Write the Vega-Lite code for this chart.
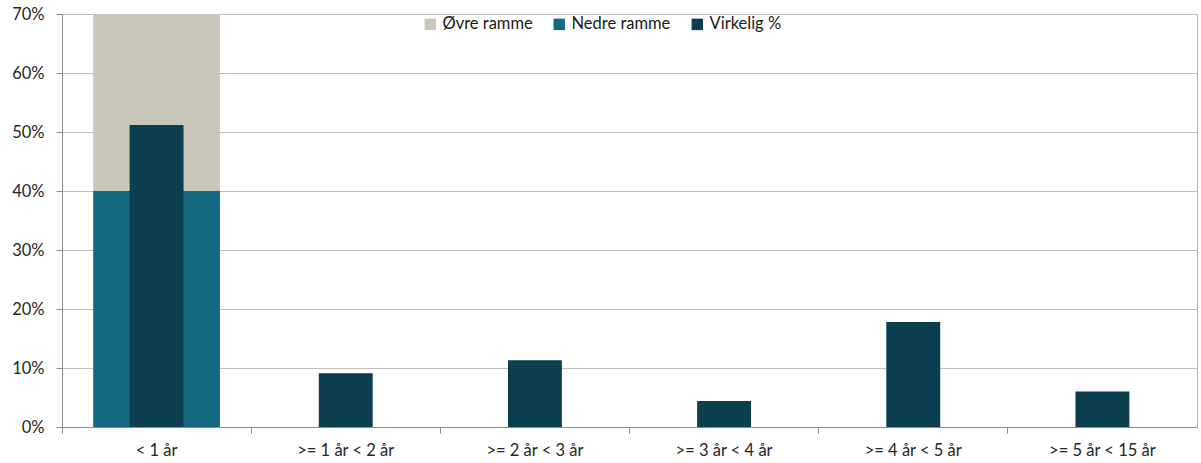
{
  "$schema": "https://vega.github.io/schema/vega-lite/v6.json",
  "autosize": "none",
  "width": 1135,
  "height": 413,
  "padding": {"left": 62, "top": 14, "right": 4, "bottom": 36},
  "background": "white",
  "config": {
    "font": "Lato",
    "view": {"stroke": "#b3b3b3", "strokeWidth": 1},
    "axis": {"labelFont": "Lato", "labelFontSize": 16.5, "labelColor": "#262626", "domainColor": "#8c8c8c", "tickColor": "#8c8c8c", "gridColor": "#c0c0c0", "title": null}
  },
  "datasets": {
    "ramme": [
      {"kat": "< 1 år", "serie": "Øvre ramme", "fra": 0.40, "til": 0.70},
      {"kat": "< 1 år", "serie": "Nedre ramme", "fra": 0.0, "til": 0.40}
    ],
    "virkelig": [
      {"kat": "< 1 år", "serie": "Virkelig %", "verdi": 0.512},
      {"kat": ">= 1 år < 2 år", "serie": "Virkelig %", "verdi": 0.091},
      {"kat": ">= 2 år < 3 år", "serie": "Virkelig %", "verdi": 0.113},
      {"kat": ">= 3 år < 4 år", "serie": "Virkelig %", "verdi": 0.044},
      {"kat": ">= 4 år < 5 år", "serie": "Virkelig %", "verdi": 0.178},
      {"kat": ">= 5 år < 15 år", "serie": "Virkelig %", "verdi": 0.060}
    ]
  },
  "layer": [
    {
      "data": {"name": "ramme"},
      "mark": {"type": "bar", "width": {"band": 0.67}},
      "encoding": {
        "x": {"field": "kat", "type": "nominal", "sort": null},
        "y": {"field": "fra", "type": "quantitative"},
        "y2": {"field": "til"},
        "color": {"field": "serie", "type": "nominal"}
      }
    },
    {
      "data": {"name": "virkelig"},
      "mark": {"type": "bar", "width": {"band": 0.285}},
      "encoding": {
        "x": {"field": "kat", "type": "nominal", "sort": null},
        "y": {"field": "verdi", "type": "quantitative"},
        "color": {"field": "serie", "type": "nominal"}
      }
    }
  ],
  "encoding": {
    "x": {
      "field": "kat", "type": "nominal",
      "sort": ["< 1 år", ">= 1 år < 2 år", ">= 2 år < 3 år", ">= 3 år < 4 år", ">= 4 år < 5 år", ">= 5 år < 15 år"],
      "scale": {"paddingInner": 0, "paddingOuter": 0, "domain": ["< 1 år", ">= 1 år < 2 år", ">= 2 år < 3 år", ">= 3 år < 4 år", ">= 4 år < 5 år", ">= 5 år < 15 år"]},
      "axis": {"labelAngle": 0, "bandPosition": 0, "tickSize": 6, "labelPadding": 9, "grid": false, "ticks": true, "labelOffset": 0}
    },
    "y": {
      "type": "quantitative",
      "scale": {"domain": [0, 0.7], "nice": false},
      "axis": {"values": [0, 0.1, 0.2, 0.3, 0.4, 0.5, 0.6, 0.7], "format": ".0%", "tickSize": 6, "labelPadding": 12, "grid": true}
    },
    "color": {
      "type": "nominal",
      "scale": {"domain": ["Øvre ramme", "Nedre ramme", "Virkelig %"], "range": ["#c9c7b9", "#136882", "#0b3e4e"]},
      "legend": {
        "orient": "none", "legendX": 360, "legendY": 2, "direction": "horizontal",
        "title": null, "symbolType": "square", "symbolSize": 130, "symbolStrokeWidth": 0,
        "labelFontSize": 16.5, "labelColor": "#1a1a1a", "labelFont": "Lato", "labelOffset": 4, "columnPadding": 18, "padding": 0
      }
    }
  }
}
